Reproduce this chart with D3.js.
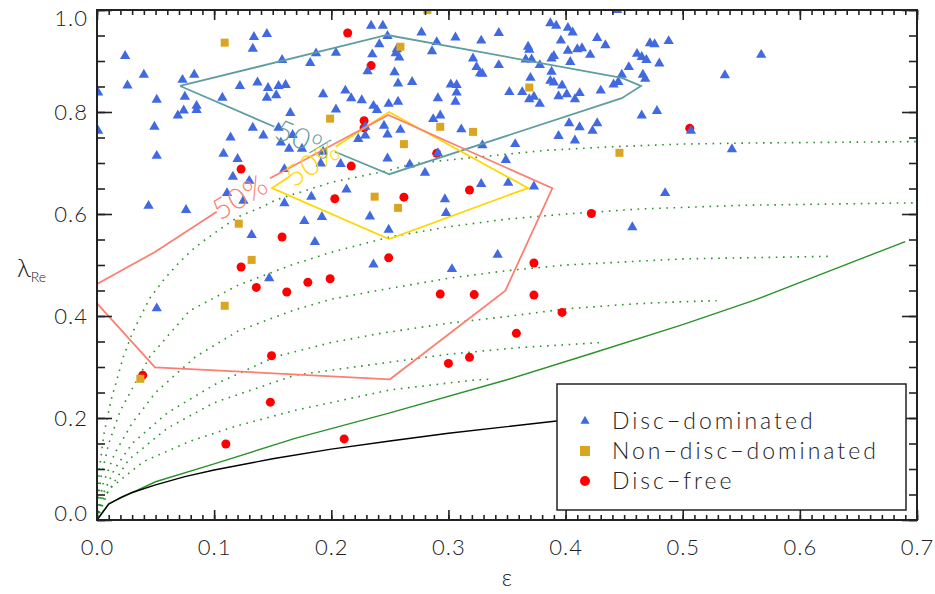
<!DOCTYPE html>
<html>
<head>
<meta charset="utf-8">
<script src="https://cdn.jsdelivr.net/npm/d3@7"></script>
<style>
body { margin: 0; background: #fff; }
svg text { font-family: Lato, "Open Sans", "DejaVu Sans", sans-serif; font-weight: 300; fill: #222; }
</style>
</head>
<body>
<div id="chart"></div>
<script>
// values: [epsilon, lambda_Re]
var discDominated = [
[0.024,0.910],[0.026,0.852],[0.040,0.873],[0.051,0.824],[0.049,0.771],[0.051,0.714],[0.001,0.838],[0.001,0.763],
[0.073,0.863],[0.083,0.873],[0.075,0.830],[0.074,0.803],[0.069,0.793],[0.085,0.812],[0.085,0.804],[0.107,0.828],
[0.134,0.947],[0.145,0.953],[0.133,0.924],[0.122,0.851],[0.137,0.858],[0.146,0.847],[0.145,0.828],[0.155,0.851],
[0.161,0.853],[0.153,0.833],[0.158,0.902],[0.165,0.798],[0.133,0.769],[0.142,0.754],[0.114,0.750],[0.108,0.718],
[0.120,0.708],[0.116,0.673],[0.130,0.665],[0.111,0.641],[0.155,0.769],[0.157,0.740],[0.164,0.728],[0.175,0.728],
[0.167,0.755],[0.182,0.896],[0.187,0.915],[0.204,0.916],[0.193,0.835],[0.204,0.805],[0.212,0.842],[0.217,0.827],
[0.226,0.823],[0.236,0.812],[0.239,0.804],[0.249,0.816],[0.229,0.771],[0.229,0.754],[0.223,0.747],[0.245,0.773],
[0.248,0.756],[0.234,0.969],[0.244,0.969],[0.241,0.933],[0.235,0.913],[0.231,0.880],[0.208,0.698],[0.191,0.699],
[0.193,0.722],[0.160,0.688],[0.213,0.648],[0.183,0.634],[0.248,0.709],
[0.248,0.949],[0.277,0.956],[0.306,0.946],[0.343,0.955],[0.328,0.940],[0.290,0.937],[0.286,0.919],[0.256,0.923],
[0.255,0.915],[0.258,0.907],[0.254,0.878],[0.257,0.856],[0.269,0.859],[0.321,0.905],[0.324,0.888],[0.327,0.876],
[0.329,0.875],[0.343,0.892],[0.302,0.854],[0.307,0.853],[0.307,0.838],[0.306,0.820],[0.291,0.827],[0.257,0.820],
[0.287,0.786],[0.293,0.793],[0.259,0.765],[0.311,0.766],[0.267,0.697],[0.280,0.681],[0.329,0.735],[0.357,0.737],
[0.349,0.706],[0.328,0.659],[0.351,0.661],[0.373,0.654],[0.291,0.719],
[0.368,0.928],[0.369,0.922],[0.366,0.903],[0.371,0.903],[0.378,0.892],[0.387,0.974],[0.392,0.969],[0.402,0.965],
[0.406,0.956],[0.396,0.940],[0.402,0.920],[0.404,0.898],[0.388,0.905],[0.390,0.910],[0.388,0.879],[0.370,0.867],
[0.387,0.861],[0.390,0.858],[0.397,0.852],[0.352,0.839],[0.363,0.839],[0.373,0.830],[0.369,0.825],[0.378,0.816],
[0.394,0.831],[0.401,0.835],[0.408,0.825],[0.412,0.837],[0.410,0.923],[0.414,0.925],[0.421,0.912],[0.427,0.945],
[0.434,0.931],[0.430,0.842],[0.441,0.854],[0.445,0.859],[0.448,0.873],[0.454,0.888],[0.461,0.914],[0.465,0.908],
[0.469,0.902],[0.466,0.873],[0.468,0.865],[0.480,0.895],[0.472,0.935],[0.476,0.933],[0.488,0.939],[0.465,0.793],
[0.478,0.802],[0.403,0.778],[0.412,0.770],[0.427,0.778],[0.423,0.763],[0.394,0.753],[0.408,0.744],[0.485,0.641],
[0.444,1.000],[0.507,0.763],[0.542,0.727],[0.536,0.872],[0.567,0.912],
[0.044,0.616],[0.076,0.608],[0.125,0.626],[0.160,0.621],[0.132,0.559],[0.177,0.586],[0.192,0.594],[0.186,0.545],
[0.233,0.595],[0.249,0.569],[0.236,0.501],[0.147,0.474],[0.051,0.415],
[0.297,0.629],[0.298,0.602],[0.342,0.520],[0.303,0.492],[0.457,0.574]
]

var nonDiscDominated = [
[0.109,0.936],[0.199,0.787],[0.237,0.634],[0.282,1.000],[0.259,0.928],[0.369,0.848],[0.293,0.771],[0.321,0.761],
[0.262,0.737],[0.446,0.720],[0.121,0.581],[0.132,0.510],[0.109,0.420],[0.037,0.277],[0.257,0.612]
]

var discFree = [
[0.214,0.955],[0.234,0.891],[0.228,0.783],[0.228,0.769],[0.123,0.688],[0.217,0.694],[0.203,0.630],[0.290,0.719],
[0.318,0.647],[0.262,0.633],[0.158,0.555],[0.123,0.496],[0.136,0.456],[0.162,0.447],[0.180,0.466],[0.199,0.473],
[0.249,0.514],[0.149,0.322],[0.039,0.284],[0.422,0.601],[0.373,0.504],[0.293,0.443],[0.322,0.442],[0.373,0.441],
[0.397,0.407],[0.358,0.366],[0.318,0.319],[0.300,0.307],[0.148,0.231],[0.110,0.149],[0.211,0.159],[0.506,0.768]
]

// black: slow/fast rotator divide, green: edge-on anisotropic line
var rotatorLine = [[0,0],[0.01,0.031],[0.02,0.044],[0.03,0.054],[0.05,0.069],[0.075,0.085],[0.1,0.098],[0.15,0.12],
    [0.2,0.139],[0.25,0.155],[0.3,0.17],[0.35,0.183],[0.4,0.196]]
var edgeOnLine = [[0,0],[0.01,0.032],[0.05,0.075],[0.1,0.11],[0.169,0.16],[0.25,0.21],[0.35,0.275],[0.42,0.325],
    [0.5,0.383],[0.56,0.43],[0.625,0.488],[0.69,0.546]]

var inclinationCurves = [
    [[0,0],[0.01,0.06],[0.04,0.115],[0.08,0.155],[0.12,0.185],[0.169,0.215],[0.25,0.255],[0.32,0.274],[0.335,0.276]],
    [[0,0],[0.005,0.04],[0.027,0.118],[0.06,0.18],[0.1,0.23],[0.169,0.284],[0.242,0.307],[0.3,0.325],[0.36,0.338],[0.431,0.348]],
    [[0,0],[0.005,0.05],[0.015,0.1],[0.03,0.15],[0.06,0.21],[0.1,0.265],[0.152,0.32],[0.2,0.348],[0.242,0.366],[0.3,0.386],
     [0.35,0.399],[0.4,0.414],[0.46,0.424],[0.5,0.428],[0.529,0.43]],
    [[0,0],[0.005,0.07],[0.015,0.13],[0.03,0.19],[0.05,0.25],[0.084,0.32],[0.12,0.37],[0.166,0.41],[0.2,0.433],[0.242,0.451],
     [0.3,0.474],[0.35,0.489],[0.4,0.5],[0.5,0.512],[0.625,0.517]],
    [[0,0],[0.003,0.08],[0.01,0.15],[0.02,0.215],[0.045,0.32],[0.079,0.41],[0.12,0.46],[0.166,0.5],[0.2,0.525],[0.25,0.555],
     [0.3,0.575],[0.35,0.59],[0.4,0.6],[0.465,0.61],[0.55,0.617],[0.7,0.622]],
    [[0,0],[0.002,0.1],[0.006,0.17],[0.012,0.235],[0.0225,0.32],[0.03,0.366],[0.045,0.435],[0.058,0.474],[0.071,0.507],
     [0.081,0.529],[0.092,0.549],[0.108,0.575],[0.121,0.595],[0.141,0.614],[0.153,0.628],[0.2,0.662],[0.25,0.686],
     [0.27,0.699],[0.327,0.712],[0.384,0.725],[0.441,0.732],[0.498,0.737],[0.549,0.739],[0.7,0.742]]
]

// 50% density contours, null marks the gap left for the label
var contourDisc = [[0.0709,0.851],[0.2476,0.951],[0.448,0.867],[0.4644,0.851],[0.448,0.827],[0.2495,0.678],[0.2032,0.722],
    null,[0.1514,0.771],[0.0709,0.851]]
var contourNonDisc = [[0.204,0.7325],[0.2493,0.8],[0.3679,0.651],[0.2493,0.551],[0.1494,0.651],[0.1648,0.674]]
var contourFree = [[0,0.4627],[0.0495,0.5255],[0.1022,0.6045],null,[0.1477,0.67],[0.2487,0.7941],[0.3887,0.6504],
    [0.3486,0.4496],[0.2501,0.2759],[0.0495,0.2994],[0,0.4249]]

var legendLabels = ["Disc\u2212dominated", "Non\u2212disc\u2212dominated", "Disc\u2212free"]
var xTicks = [0, 0.1, 0.2, 0.3, 0.4, 0.5, 0.6, 0.7]
var yTicks = [0, 0.2, 0.4, 0.6, 0.8, 1.0]

var colour = {disc: "#4169e1", nondisc: "#daa520", free: "#ff0000",
    cDisc: "#5f9ea0", cNon: "#ffd700", cFree: "#fa8072", green: "#2a922a"}

var W = 935, H = 594, plotL = 97, plotR = 917, plotT = 10, plotB = 520

var x = d3.scaleLinear().domain([0, 0.7]).range([plotL, plotR])
var y = d3.scaleLinear().domain([0, 1]).range([plotB, plotT])

var svg = d3.select("#chart").append("svg")
    .attr("width", W)
    .attr("height", H)

svg.append("clipPath").attr("id", "plotclip")
    .append("rect")
    .attr("x", plotL).attr("y", plotT)
    .attr("width", plotR - plotL).attr("height", plotB - plotT)

var plot = svg.append("g").attr("clip-path", "url(#plotclip)")

var line = d3.line()
    .defined(function(d) { return d !== null })
    .x(function(d) { return x(d[0]) })
    .y(function(d) { return y(d[1]) })

plot.selectAll("path.incl")
    .data(inclinationCurves)
    .enter().append("path")
    .attr("class", "incl")
    .attr("d", line)
    .attr("fill", "none")
    .attr("stroke", colour.green)
    .attr("stroke-width", 1.6)
    .attr("stroke-dasharray", "1.6,5.6")

plot.append("path")
    .attr("d", line(edgeOnLine))
    .attr("fill", "none")
    .attr("stroke", colour.green)
    .attr("stroke-width", 1.4)

plot.append("path")
    .attr("d", line(rotatorLine))
    .attr("fill", "none")
    .attr("stroke", "#000")
    .attr("stroke-width", 1.4)

plot.selectAll("circle.free")
    .data(discFree)
    .enter().append("circle")
    .attr("class", "free")
    .attr("cx", function(d) { return x(d[0]) })
    .attr("cy", function(d) { return y(d[1]) })
    .attr("r", 4.5)
    .attr("fill", colour.free)

var tri = d3.symbol().type(d3.symbolTriangle).size(46)
plot.selectAll("path.disc")
    .data(discDominated)
    .enter().append("path")
    .attr("class", "disc")
    .attr("d", tri)
    .attr("transform", function(d) { return "translate(" + x(d[0]) + "," + y(d[1]) + ")" })
    .attr("fill", colour.disc)

plot.selectAll("rect.nondisc")
    .data(nonDiscDominated)
    .enter().append("rect")
    .attr("class", "nondisc")
    .attr("x", function(d) { return x(d[0]) - 4 })
    .attr("y", function(d) { return y(d[1]) - 4 })
    .attr("width", 8)
    .attr("height", 8)
    .attr("fill", colour.nondisc)

var contours = [
    {pts: contourDisc, c: colour.cDisc},
    {pts: contourNonDisc, c: colour.cNon},
    {pts: contourFree, c: colour.cFree}
]
plot.selectAll("path.contour")
    .data(contours)
    .enter().append("path")
    .attr("class", "contour")
    .attr("d", function(d) { return line(d.pts) })
    .attr("fill", "none")
    .attr("stroke", function(d) { return d.c })
    .attr("stroke-width", 1.8)

var contourLabels = [
    {at: [0.177, 0.746], rot: 23, c: colour.cDisc},
    {at: [0.184, 0.700], rot: -33, c: colour.cNon},
    {at: [0.122, 0.634], rot: -31, c: colour.cFree}
]
svg.selectAll("text.clabel")
    .data(contourLabels)
    .enter().append("text")
    .attr("class", "clabel")
    .attr("transform", function(d) { return "translate(" + x(d.at[0]) + "," + y(d.at[1]) + ") rotate(" + d.rot + ")" })
    .attr("text-anchor", "middle")
    .attr("dy", "0.36em")
    .style("font-size", "29px")
    .style("letter-spacing", "1px")
    .style("fill", function(d) { return d.c })
    .text("50%")

// axes, ticks on all four sides pointing inward
function styleAxis(g) {
    g.select(".domain").remove()
    g.selectAll(".tick line").attr("stroke", "#222").attr("stroke-width", 1.6)
}
var fmt = d3.format(".1f")

svg.append("g").attr("transform", "translate(0," + plotB + ")")
    .call(d3.axisBottom(x).tickValues(d3.range(0, 0.7001, 0.01)).tickSizeInner(-5).tickSizeOuter(0).tickFormat(""))
    .call(styleAxis)
svg.append("g").attr("transform", "translate(0," + plotT + ")")
    .call(d3.axisTop(x).tickValues(d3.range(0, 0.7001, 0.01)).tickSizeInner(-5).tickSizeOuter(0).tickFormat(""))
    .call(styleAxis)
svg.append("g").attr("transform", "translate(0," + plotT + ")")
    .call(d3.axisTop(x).tickValues(xTicks).tickSizeInner(-10).tickSizeOuter(0).tickFormat(""))
    .call(styleAxis)
svg.append("g").attr("transform", "translate(0," + plotB + ")")
    .call(d3.axisBottom(x).tickValues(xTicks).tickSizeInner(-10).tickSizeOuter(0).tickPadding(19).tickFormat(fmt))
    .call(styleAxis)

svg.append("g").attr("transform", "translate(" + plotL + ",0)")
    .call(d3.axisLeft(y).tickValues(d3.range(0, 1.0001, 0.05)).tickSizeInner(-8).tickSizeOuter(0).tickFormat(""))
    .call(styleAxis)
svg.append("g").attr("transform", "translate(" + plotR + ",0)")
    .call(d3.axisRight(y).tickValues(d3.range(0, 1.0001, 0.05)).tickSizeInner(-8).tickSizeOuter(0).tickFormat(""))
    .call(styleAxis)
svg.append("g").attr("transform", "translate(" + plotR + ",0)")
    .call(d3.axisRight(y).tickValues(yTicks).tickSizeInner(-15).tickSizeOuter(0).tickFormat(""))
    .call(styleAxis)
var yAxis = svg.append("g").attr("transform", "translate(" + plotL + ",0)")
    .call(d3.axisLeft(y).tickValues(yTicks).tickSizeInner(-15).tickSizeOuter(0).tickPadding(9).tickFormat(fmt))
    .call(styleAxis)

svg.selectAll(".tick text").style("font-size", "22px").style("letter-spacing", "1px")
    .attr("font-family", null).style("fill", "#222")

// end labels sit inside the frame height, as in the figure
yAxis.selectAll(".tick text")
    .attr("dy", function(d) { return d === 1 ? "0.7em" : d === 0 ? "0.0em" : "0.32em" })

svg.append("rect")
    .attr("x", plotL).attr("y", plotT)
    .attr("width", plotR - plotL).attr("height", plotB - plotT)
    .attr("fill", "none")
    .attr("stroke", "#222")
    .attr("stroke-width", 2)

// axis titles
svg.append("text")
    .attr("x", x(0.35))
    .attr("y", 586)
    .attr("text-anchor", "middle")
    .style("font-size", "23px")
    .text("\u03b5")

var ylab = svg.append("text")
    .attr("x", 17)
    .attr("y", 277)
    .style("font-size", "26px")
ylab.append("tspan").text("\u03bb")
ylab.append("tspan").attr("dy", 5).style("font-size", "14px").text("Re")

// legend
var legend = svg.append("g")
legend.append("rect")
    .attr("x", 557).attr("y", 384)
    .attr("width", 349).attr("height", 126)
    .attr("fill", "#fff")
    .attr("stroke", "#222")
    .attr("stroke-width", 1.5)

var entries = legend.selectAll("g.entry")
    .data(legendLabels)
    .enter().append("g")
    .attr("class", "entry")
    .attr("transform", function(d, i) { return "translate(585," + (421 + i * 30) + ")" })

entries.filter(function(d, i) { return i === 0 }).append("path")
    .attr("d", d3.symbol().type(d3.symbolTriangle).size(36))
    .attr("fill", colour.disc)
entries.filter(function(d, i) { return i === 1 }).append("rect")
    .attr("x", -5).attr("y", -5).attr("width", 10).attr("height", 10)
    .attr("fill", colour.nondisc)
entries.filter(function(d, i) { return i === 2 }).append("circle")
    .attr("r", 5)
    .attr("fill", colour.free)

entries.append("text")
    .attr("x", 27)
    .attr("dy", "0.36em")
    .style("font-size", "23px")
    .style("letter-spacing", "3px")
    .text(function(d) { return d })
</script>
</body>
</html>
